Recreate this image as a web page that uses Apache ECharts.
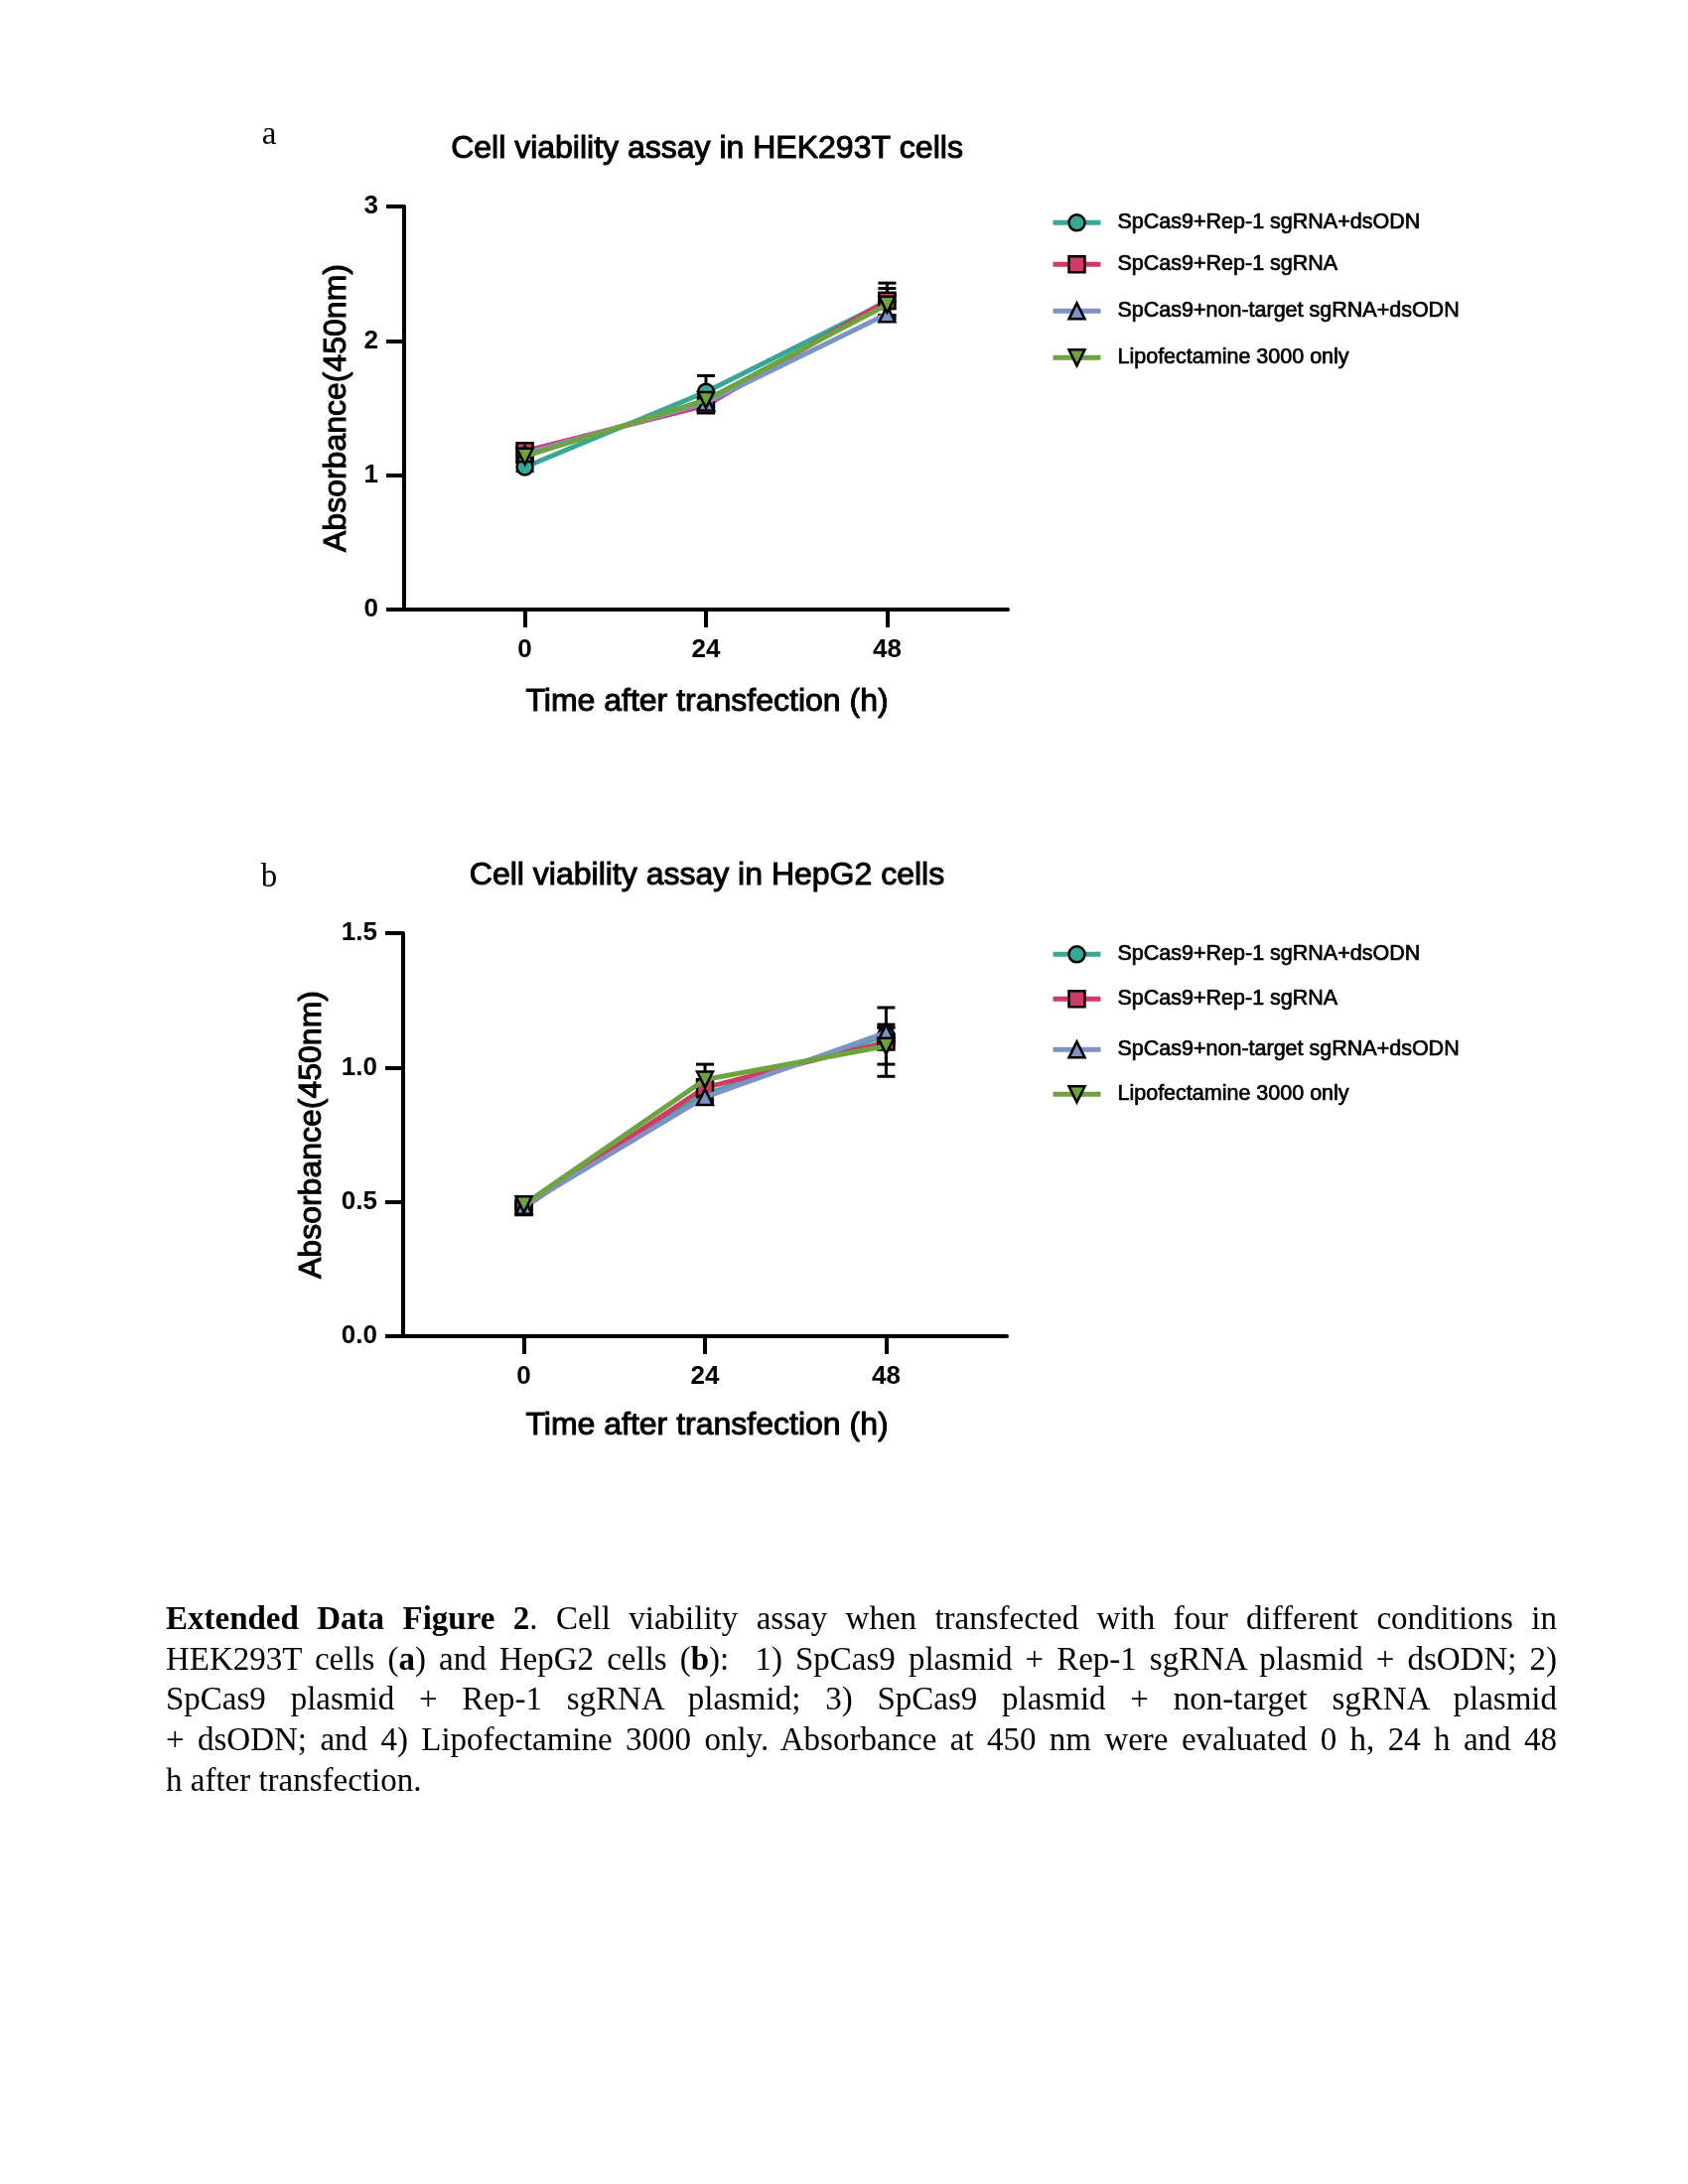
<!DOCTYPE html>
<html>
<head>
<meta charset="utf-8">
<script src="https://cdn.jsdelivr.net/npm/echarts@6/dist/echarts.min.js"></script>
<style>
  html, body { margin: 0; padding: 0; background: #ffffff; }
  #wrap { position: relative; width: 1700px; height: 2200px; }
  #chart { position: absolute; left: 0; top: 0; width: 1700px; height: 2200px; }
  #caption { position: absolute; left: 167px; top: 1610px; width: 1401px;
             font-family: "Liberation Serif", "Times New Roman", serif; font-size: 33px;
             line-height: 40.7px; color: #000; }
  #caption .ln { text-align: justify; text-align-last: justify; white-space: normal; }
  #caption .last { text-align: left; text-align-last: left; }
</style>
</head>
<body>
<div id="wrap">
  <div id="chart"></div>
  <div id="caption">
    <div class="ln"><b>Extended Data Figure 2</b>. Cell viability assay when transfected with four different conditions in</div>
    <div class="ln">HEK293T cells (<b>a</b>) and HepG2 cells (<b>b</b>):&nbsp; 1) SpCas9 plasmid + Rep-1 sgRNA plasmid + dsODN; 2)</div>
    <div class="ln">SpCas9 plasmid + Rep-1 sgRNA plasmid; 3) SpCas9 plasmid + non-target sgRNA plasmid</div>
    <div class="ln">+ dsODN; and 4) Lipofectamine 3000 only. Absorbance at 450 nm were evaluated 0 h, 24 h and 48</div>
    <div class="ln last">h after transfection.</div>
  </div>
</div>
<script>
// ---------------- data ----------------
const timePoints = [0, 24, 48];
const seriesNames = [
  'SpCas9+Rep-1 sgRNA+dsODN',
  'SpCas9+Rep-1 sgRNA',
  'SpCas9+non-target sgRNA+dsODN',
  'Lipofectamine 3000 only'
];
const panelTitles = ['Cell viability assay in HEK293T cells', 'Cell viability assay in HepG2 cells'];
const panelLetters = ['a', 'b'];
const xAxisTitle = 'Time after transfection (h)';
const yAxisTitle = 'Absorbance(450nm)';
const xTickValues = [0, 24, 48];

// HEK293T (panel a): means and SD
const hekMean1 = [1.06, 1.62, 2.29];
const hekSd1   = [0.03, 0.12, 0.10];
const hekMean2 = [1.18, 1.52, 2.30];
const hekSd2   = [0.03, 0.03, 0.13];
const hekMean3 = [1.16, 1.54, 2.20];
const hekSd3   = [0.03, 0.03, 0.04];
const hekMean4 = [1.14, 1.56, 2.27];
const hekSd4   = [0.03, 0.03, 0.08];

// HepG2 (panel b): means and SD
const hepMean1 = [0.49, 0.90, 1.12];
const hepSd1   = [0.01, 0.02, 0.03];
const hepMean2 = [0.48, 0.925, 1.095];
const hepSd2   = [0.01, 0.03, 0.128];
const hepMean3 = [0.485, 0.89, 1.13];
const hepSd3   = [0.01, 0.02, 0.03];
const hepMean4 = [0.49, 0.955, 1.08];
const hepSd4   = [0.01, 0.057, 0.068];

// ---------------- styles ----------------
const colors = ['#35a898', '#cf3b67', '#7d93c6', '#6fa33d'];
const symbols = ['circle', 'rect', 'triangle', 'triangle'];
const symbolRot = [0, 0, 0, 180];
const sansFont = '"Liberation Sans", Arial, Helvetica, sans-serif';

const panels = [
  { means: [hekMean1, hekMean2, hekMean3, hekMean4], sds: [hekSd1, hekSd2, hekSd3, hekSd4],
    yMax: 3, yInt: 1, yDec: 0,
    grid: { left: 407, top: 208, width: 608, height: 406 },
    titleY: 150, xTitleY: 707, yTitleX: 339, letterY: 136, legendTops: [219, 261, 308, 355] },
  { means: [hepMean1, hepMean2, hepMean3, hepMean4], sds: [hepSd1, hepSd2, hepSd3, hepSd4],
    yMax: 1.5, yInt: 0.5, yDec: 1,
    grid: { left: 406, top: 940, width: 608, height: 406 },
    titleY: 882, xTitleY: 1436, yTitleX: 314, letterY: 884, legendTops: [956, 1001, 1052, 1097] }
];

const grids = [], xAxes = [], yAxes = [], series = [], legends = [], graphics = [];

const heavyText = (txt, x, y, extra) => Object.assign({
  text: txt, x: x, y: y, align: 'center', verticalAlign: 'middle',
  fill: '#000', stroke: '#000', lineWidth: 1, font: '32px ' + sansFont
}, extra || {});

panels.forEach((p, pi) => {
  grids.push(Object.assign({ outerBoundsMode: 'none', containLabel: false }, p.grid));
  xAxes.push({
    type: 'value', gridIndex: pi, min: -16, max: 64,
    axisLine: { show: true, onZero: false, lineStyle: { color: '#000', width: 4 } },
    axisTick: { show: true, customValues: xTickValues, length: 18, lineStyle: { color: '#000', width: 4 } },
    axisLabel: { show: true, customValues: xTickValues, margin: 28, color: '#000',
                 fontFamily: sansFont, fontSize: 26, fontWeight: 'bold' },
    splitLine: { show: false }
  });
  yAxes.push({
    type: 'value', gridIndex: pi, min: 0, max: p.yMax, interval: p.yInt,
    axisLine: { show: true, onZero: false, lineStyle: { color: '#000', width: 4 } },
    axisTick: { show: true, length: 18, lineStyle: { color: '#000', width: 4 } },
    axisLabel: { show: true, margin: 26, color: '#000', fontFamily: sansFont, fontSize: 26, fontWeight: 'bold',
                 formatter: v => v.toFixed(p.yDec) },
    splitLine: { show: false }
  });

  // error bars (drawn beneath lines/markers)
  p.means.forEach((m, si) => {
    const errData = timePoints.map((t, i) => [t, m[i] - p.sds[si][i], m[i] + p.sds[si][i]]);
    series.push({
      type: 'custom', xAxisIndex: pi, yAxisIndex: pi, z: 2 + si * 0.01, silent: true,
      data: errData,
      encode: { x: 0, y: [1, 2] },
      renderItem: (params, api) => {
        const lo = api.coord([api.value(0), api.value(1)]);
        const hi = api.coord([api.value(0), api.value(2)]);
        const hw = 9;
        const st = { stroke: '#000', lineWidth: 3, fill: null };
        return { type: 'group', children: [
          { type: 'line', shape: { x1: lo[0], y1: lo[1], x2: hi[0], y2: hi[1] }, style: st },
          { type: 'line', shape: { x1: hi[0] - hw, y1: hi[1], x2: hi[0] + hw, y2: hi[1] }, style: st },
          { type: 'line', shape: { x1: lo[0] - hw, y1: lo[1], x2: lo[0] + hw, y2: lo[1] }, style: st }
        ]};
      }
    });
  });

  p.means.forEach((m, si) => {
    series.push({
      type: 'line', name: seriesNames[si], xAxisIndex: pi, yAxisIndex: pi,
      z: 3 + si * 0.01,
      data: timePoints.map((t, i) => [t, m[i]]),
      symbol: symbols[si], symbolRotate: symbolRot[si], symbolSize: 16, showAllSymbol: true,
      lineStyle: { color: colors[si], width: 5 },
      itemStyle: { color: colors[si], borderColor: '#000', borderWidth: 2.5 },
      emphasis: { disabled: true },
      animation: false
    });
  });

  seriesNames.forEach((nm, si) => {
    legends.push({
      data: [nm], orient: 'vertical', left: 1053, top: p.legendTops[si] - 11,
      itemWidth: 48, itemHeight: 20, itemGap: 0, selectedMode: false,
      lineStyle: { width: 5 },
      itemStyle: { borderColor: '#000', borderWidth: 2.5 },
      textStyle: { color: '#000', fontFamily: sansFont, fontSize: 21.5, padding: [0, 0, 0, 12],
                   textBorderColor: '#000', textBorderWidth: 0.7 }
    });
  });

  graphics.push(
    { type: 'text', style: heavyText(panelTitles[pi], 712, p.titleY) },
    { type: 'text', style: heavyText(xAxisTitle, 712, p.xTitleY) },
    { type: 'text', rotation: Math.PI / 2, x: p.yTitleX, y: p.grid.top + p.grid.height / 2,
      style: heavyText(yAxisTitle, 0, 0) },
    { type: 'text', style: { text: panelLetters[pi], x: 271, y: p.letterY, align: 'center', verticalAlign: 'middle',
      fill: '#000', font: '33px "Liberation Serif", "Times New Roman", serif' } }
  );
});

const chart = echarts.init(document.getElementById('chart'), null, { renderer: 'canvas' });
chart.setOption({
  backgroundColor: '#ffffff',
  animation: false,
  grid: grids,
  xAxis: xAxes,
  yAxis: yAxes,
  legend: legends,
  series: series,
  graphic: graphics
});
</script>
</body>
</html>
